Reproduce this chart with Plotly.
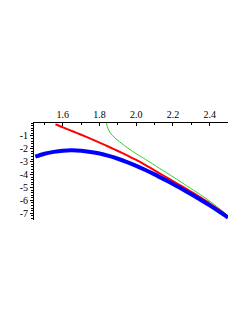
import plotly.graph_objects as go

# Data
blue_x = [1.45, 1.5, 1.55, 1.6, 1.65, 1.7, 1.75, 1.8, 1.85, 1.9, 1.95, 2.0, 2.05, 2.1, 2.15, 2.2, 2.25, 2.3, 2.35, 2.4, 2.45, 2.5]
blue_y = [-2.61, -2.38, -2.24, -2.15, -2.12, -2.16, -2.25, -2.37, -2.55, -2.77, -3.03, -3.32, -3.64, -3.98, -4.35, -4.73, -5.12, -5.53, -5.95, -6.39, -6.85, -7.33]

red_x = [1.56, 1.6, 1.65, 1.7, 1.75, 1.8, 1.85, 1.9, 1.95, 2.0, 2.05, 2.1, 2.15, 2.2, 2.25, 2.3, 2.35, 2.4, 2.45, 2.5]
red_y = [-0.1, -0.34, -0.62, -0.91, -1.21, -1.52, -1.84, -2.17, -2.51, -2.86, -3.26, -3.67, -4.09, -4.5, -4.92, -5.34, -5.77, -6.22, -6.72, -7.26]

green_x = [1.838, 1.845, 1.86, 1.88, 1.9, 1.95, 2.0, 2.05, 2.1, 2.15, 2.2, 2.25, 2.3, 2.35, 2.4, 2.45, 2.5]
green_y = [0.0, -0.4, -0.8, -1.1, -1.35, -1.9, -2.38, -2.82, -3.27, -3.72, -4.17, -4.63, -5.1, -5.56, -6.05, -6.6, -7.19]

x_ticks = [1.6, 1.8, 2.0, 2.2, 2.4]
x_tick_labels = ["1.6", "1.8", "2.0", "2.2", "2.4"]
y_ticks = [-1, -2, -3, -4, -5, -6, -7]
y_tick_labels = ["-1", "-2", "-3", "-4", "-5", "-6", "-7"]

fig = go.Figure()
fig.add_trace(go.Scatter(x=green_x, y=green_y, mode="lines", line=dict(color="#33cc33", width=1, shape="spline", smoothing=0.8), cliponaxis=False))
fig.add_trace(go.Scatter(x=red_x, y=red_y, mode="lines", line=dict(color="#ff0000", width=2, shape="spline", smoothing=0.8), cliponaxis=False))
fig.add_trace(go.Scatter(x=blue_x, y=blue_y, mode="lines", line=dict(color="#0000ff", width=4, shape="spline", smoothing=0.8), cliponaxis=False))

font = dict(family="Liberation Serif", size=10, color="black")
fig.update_layout(
    width=241, height=315,
    margin=dict(l=24, r=21, t=115, b=103),
    paper_bgcolor="white", plot_bgcolor="white",
    showlegend=False,
    font=font,
    xaxis=dict(range=[1.443, 2.5], side="top", tickvals=x_ticks, ticktext=x_tick_labels,
               showgrid=False, zeroline=False, showline=True, linecolor="black", linewidth=1,
               ticks="inside", ticklen=3, tickcolor="black", tickfont=font,
               minor=dict(tickvals=[1.5, 1.7, 1.9, 2.1, 2.3, 2.5], ticks="inside", ticklen=2, tickcolor="black")),
    yaxis=dict(range=[-7.52, 0], tickvals=y_ticks, ticktext=y_tick_labels,
               showgrid=False, zeroline=False, showline=True, linecolor="black", linewidth=1,
               ticks="outside", ticklen=3, tickcolor="black", tickfont=font,
               minor=dict(dtick=0.2, ticks="outside", ticklen=2, tickcolor="black")),
)
fig.write_html("out.html")
